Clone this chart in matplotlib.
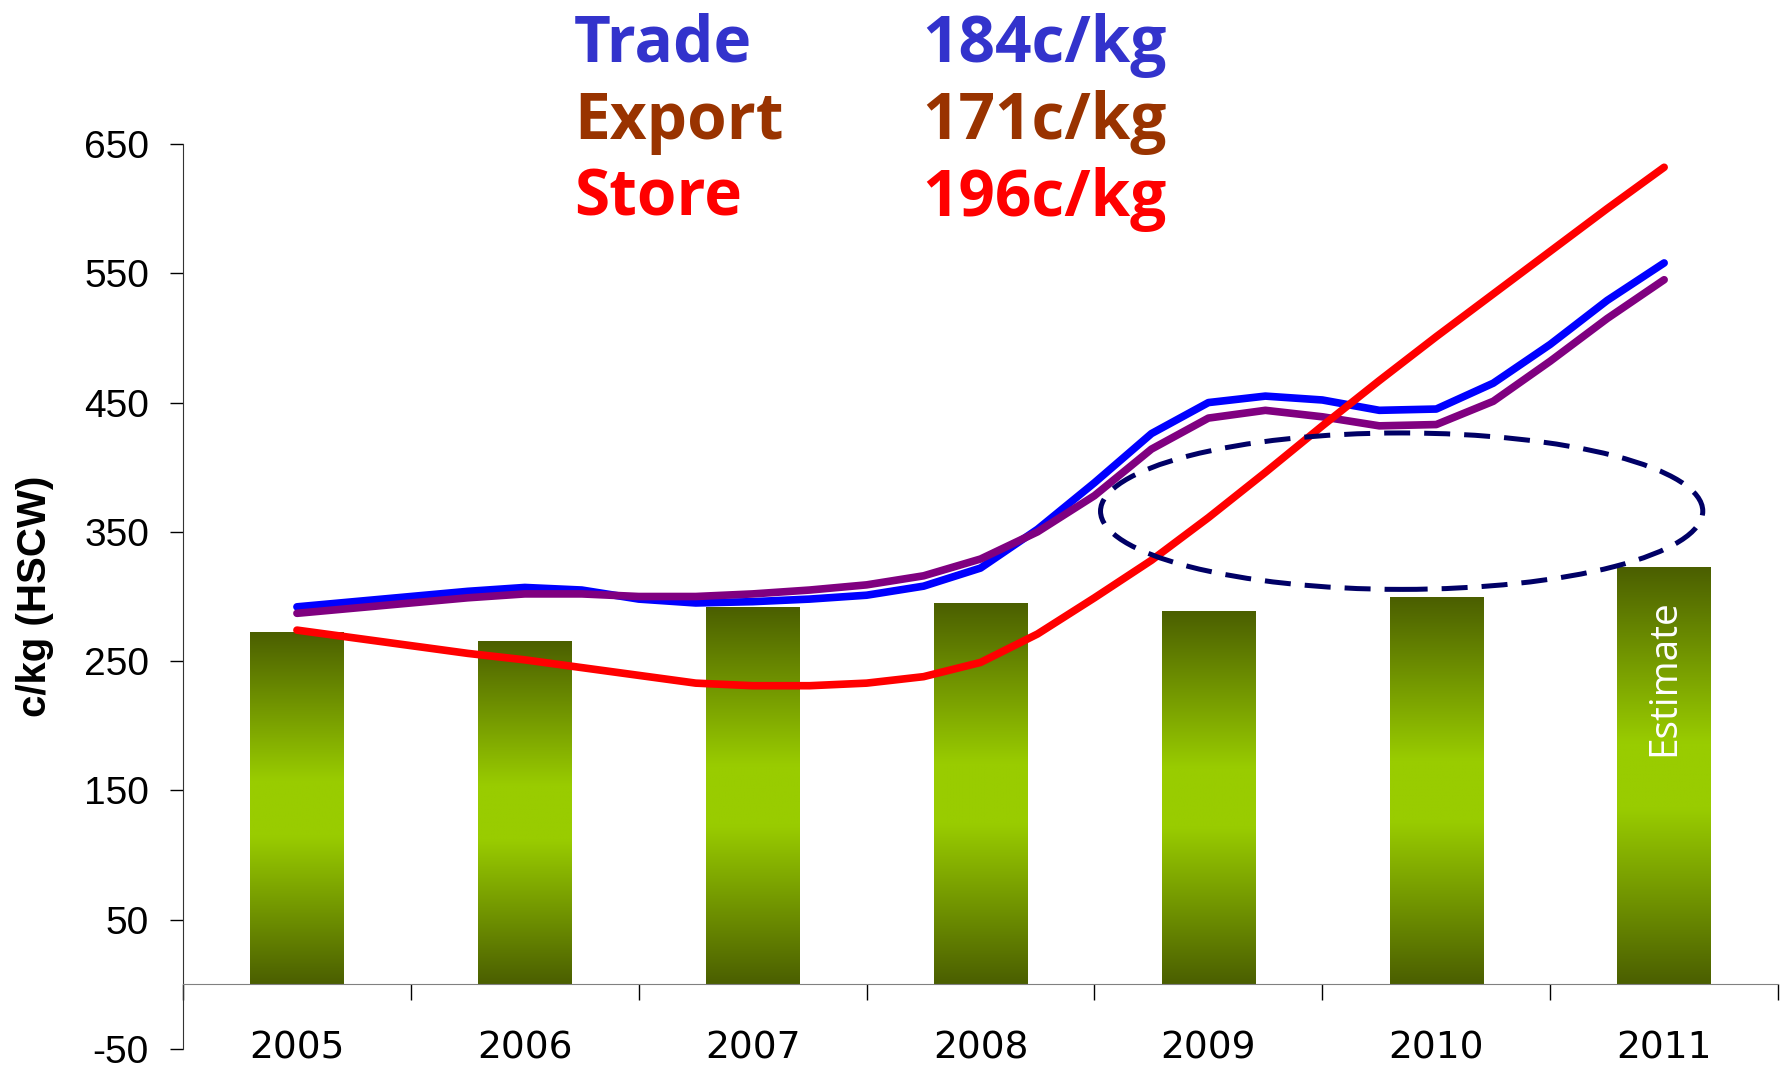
import numpy as np
import matplotlib
matplotlib.use("Agg")
import matplotlib.pyplot as plt
from matplotlib.colors import LinearSegmentedColormap
from matplotlib.patches import Ellipse

plt.rcParams['axes.unicode_minus'] = False

years = ['2005', '2006', '2007', '2008', '2009', '2010', '2011']
bar_vals = [272, 265, 291, 294, 288, 299, 322]

# quarterly points from the 2005 bar centre to the 2011 bar centre
qx = np.linspace(0, 6, 25)
trade = [292, 296, 300, 304, 307, 305, 298, 295, 296, 298, 301, 308, 322,
         352, 388, 426, 450, 455, 452, 444, 445, 465, 495, 529, 558]
export = [287, 291, 295, 299, 302, 302, 300, 300, 302, 305, 309, 316, 329,
          350, 378, 414, 438, 444, 439, 432, 433, 451, 482, 515, 545]
store = [274, 268, 262, 256, 251, 245, 239, 233, 231, 231, 233, 238, 249,
         271, 299, 328, 361, 396, 432, 467, 501, 534, 567, 600, 632]

legend_names = ['Trade', 'Export', 'Store']
legend_vals = ['184c/kg', '171c/kg', '196c/kg']
legend_cols = ['#3333CC', '#993300', '#FF0000']

fig = plt.figure(figsize=(17.82, 10.69), dpi=100)
ax = fig.add_axes([0.1027, 0.0187, 0.8951, 0.8466])

x = np.arange(len(years))
bars = ax.bar(x, bar_vals, width=0.41, color='none', zorder=1)
cmap = LinearSegmentedColormap.from_list('olive', [(0, '#4B5F00'), (0.42, '#99CC00'),
                                                   (0.58, '#99CC00'), (1, '#4B5F00')])
grad = np.linspace(0, 1, 256).reshape(-1, 1)
for r in bars:
    x0, y0, w, h = r.get_x(), r.get_y(), r.get_width(), r.get_height()
    ax.imshow(grad, extent=[x0, x0 + w, y0, y0 + h], origin='lower', aspect='auto',
              cmap=cmap, zorder=1, interpolation='bilinear')

ax.plot(qx, trade, color='#0000FF', lw=5.5, solid_capstyle='round', zorder=3)
ax.plot(qx, export, color='#800080', lw=5.5, solid_capstyle='round', zorder=3)
ax.plot(qx, store, color='#FF0000', lw=5.5, solid_capstyle='round', zorder=3)

ell = Ellipse((4.848, 366), 2.643, 121, fill=False, edgecolor='#000066', lw=3.6,
              linestyle=(0, (5.2, 2.8)), zorder=4)
ax.add_patch(ell)

ax.text(6, 237, 'Estimate', rotation=90, color='white', fontsize=28,
        family='Open Sans', ha='center', va='center', zorder=5)

ax.set_xlim(-0.5, 6.5)
ax.set_ylim(-50, 650)
ax.set_yticks(range(-50, 651, 100))
ax.set_xticks(x)
ax.set_xticklabels(years)
ax.set_xticks(np.arange(-0.5, 6.6, 1), minor=True)
ax.tick_params(axis='x', which='major', length=0, pad=33, labelsize=27)
ax.tick_params(axis='x', which='minor', length=11.5, direction='out', width=1)
ax.tick_params(axis='y', length=9.5, width=1, pad=15, labelsize=28)
for lab in ax.get_xticklabels() + ax.get_yticklabels():
    lab.set_family('Liberation Sans')

ax.spines['top'].set_visible(False)
ax.spines['right'].set_visible(False)
ax.spines['bottom'].set_position(('data', 0))
ax.spines['bottom'].set_color('#808080')
ax.spines['left'].set_color('#333333')

ax.set_ylabel('c/kg (HSCW)', fontsize=29, fontweight='bold', family='Liberation Sans')
ax.yaxis.set_label_coords(-0.081, 0.5)

baselines = [62, 139, 216]
for name, val, col, b in zip(legend_names, legend_vals, legend_cols, baselines):
    fig.text(574 / 1782, 1 - b / 1069, name, color=col, fontsize=46,
             fontweight='bold', family='Open Sans', va='baseline')
    fig.text(922 / 1782, 1 - b / 1069, val, color=col, fontsize=46,
             fontweight='bold', family='Open Sans', va='baseline')

fig.savefig('out.png', dpi=100)
